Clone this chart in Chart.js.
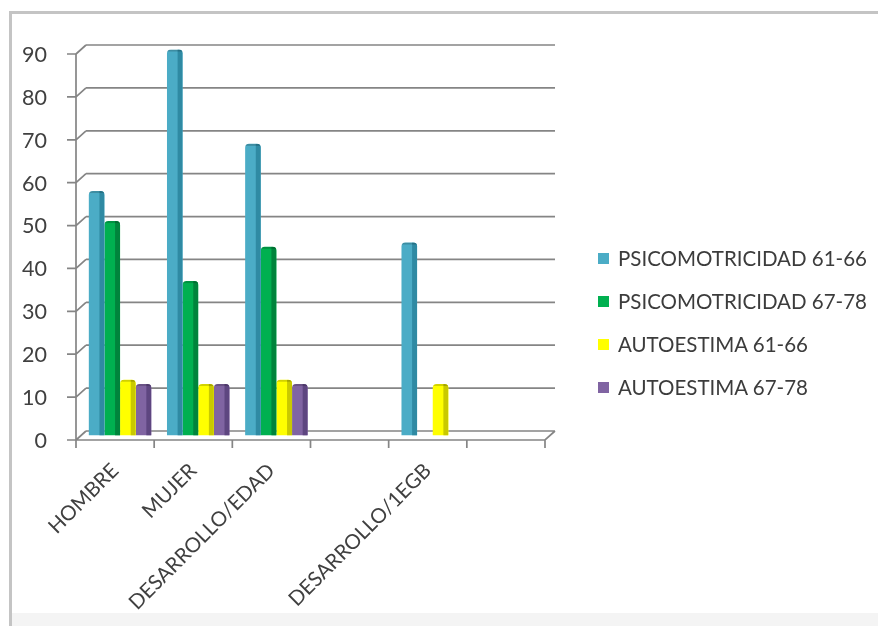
<!DOCTYPE html>
<html>
<head>
<meta charset="utf-8">
<script src="https://cdn.jsdelivr.net/npm/chart.js@4.4.1/dist/chart.umd.min.js"></script>
<style>
  html, body { margin: 0; padding: 0; background: #ffffff; }
  #wrap { position: relative; width: 878px; height: 626px; overflow: hidden; }
  #frame { position: absolute; left: 9px; top: 11px; right: 0; bottom: 0;
           border-left: 3px solid #c4c4c4; border-top: 3px solid #c4c4c4; background: #ffffff; }
  #foot { position: absolute; left: 12px; right: 0; top: 613px; bottom: 0; background: #f4f4f4; }
  #chart { position: absolute; left: 0; top: 0; }
  #legend { position: absolute; left: 598px; top: 0; margin: 0; padding: 0; list-style: none;
            font-family: Lato, "Open Sans", sans-serif; font-size: 20.5px; color: #3c3c3c; }
  #legend li { position: absolute; left: 0; height: 24px; display: flex; align-items: center; white-space: nowrap; }
  #legend .box { display: inline-block; width: 11px; height: 11px; margin-right: 9px; }
</style>
</head>
<body>
<div id="wrap">
  <div id="frame"></div>
  <div id="foot"></div>
  <canvas id="chart" width="878" height="626"></canvas>
  <ul id="legend"></ul>
</div>
<script>
// Categories (two unnamed slots keep the spacing of the original sheet)
const categories = ['HOMBRE', 'MUJER', 'DESARROLLO/EDAD', '', 'DESARROLLO/1EGB', ''];

// Series names and values
const seriesNames = ['PSICOMOTRICIDAD 61-66', 'PSICOMOTRICIDAD 67-78', 'AUTOESTIMA 61-66', 'AUTOESTIMA 67-78'];
const psicomotricidad6166 = [57, 90, 68, null, 45, null];
const psicomotricidad6778 = [50, 36, 44, null, null, null];
const autoestima6166      = [13, 12, 13, null, 12, null];
const autoestima6778      = [12, 12, 12, null, null, null];

// Value axis ticks
const yTicks = [0, 10, 20, 30, 40, 50, 60, 70, 80, 90];

// Face and side colours of each series
const faceColors = ['#4bacc6', '#00b050', '#ffff00', '#8064a2'];
const sideColors = ['#2f8aa3', '#00843c', '#c9c900', '#5e4680'];

// Pseudo-3D depth offset between the middle plane and the front/back planes
const DX = 5, DY = 4.5;

const seriesValues = [psicomotricidad6166, psicomotricidad6778, autoestima6166, autoestima6778];

// Back wall, side wall, floor and the front axes
const wallsPlugin = {
  id: 'walls',
  beforeDatasetsDraw(chart) {
    const { ctx, chartArea: a, scales: { y } } = chart;
    ctx.save();
    ctx.strokeStyle = '#858585';
    ctx.lineWidth = 1.7;
    ctx.beginPath();
    yTicks.forEach(v => {
      const py = y.getPixelForValue(v);
      // back-wall gridline
      ctx.moveTo(a.left + DX, py - DY);
      ctx.lineTo(a.right + DX, py - DY);
      // side-wall diagonal
      ctx.moveTo(a.left - DX, py + DY);
      ctx.lineTo(a.left + DX, py - DY);
      // front tick mark
      ctx.moveTo(a.left - DX - 9, py + DY);
      ctx.lineTo(a.left - DX, py + DY);
    });
    const top = y.getPixelForValue(yTicks[yTicks.length - 1]);
    const base = y.getPixelForValue(0);
    // front value axis
    ctx.moveTo(a.left - DX, top + DY);
    ctx.lineTo(a.left - DX, base + DY);
    // front floor edge and right floor diagonal
    ctx.moveTo(a.left - DX, base + DY);
    ctx.lineTo(a.right - DX, base + DY);
    ctx.lineTo(a.right + DX, base - DY);
    // category separators
    const step = (a.right - a.left) / categories.length;
    for (let i = 0; i <= categories.length; i++) {
      const px = a.left + i * step - DX;
      ctx.moveTo(px, base + DY);
      ctx.lineTo(px, base + DY + 8);
    }
    ctx.stroke();
    ctx.restore();
  }
};

// Darker right-hand side on every column for a rounded, 3D look
const shadePlugin = {
  id: 'shade',
  afterDatasetsDraw(chart) {
    const { ctx } = chart;
    chart.data.datasets.forEach((ds, di) => {
      const meta = chart.getDatasetMeta(di);
      meta.data.forEach((bar, i) => {
        if (ds.data[i] === null) return;
        const { x, y, base, width } = bar.getProps(['x', 'y', 'base', 'width'], true);
        const left = x - width / 2;
        ctx.save();
        ctx.beginPath();
        ctx.roundRect(left, y, width, base - y, [4, 4, 0, 0]);
        ctx.clip();
        ctx.fillStyle = sideColors[di];
        ctx.fillRect(x + width * 0.18, y, width * 0.32, base - y);
        ctx.fillStyle = 'rgba(0,0,0,0.18)';
        ctx.fillRect(left, y, width, 2);
        ctx.restore();
      });
    });
  }
};

const chart = new Chart(document.getElementById('chart'), {
  type: 'bar',
  data: {
    labels: categories,
    datasets: seriesNames.map((name, i) => ({
      label: name,
      data: seriesValues[i],
      backgroundColor: faceColors[i],
      borderWidth: 0,
      borderRadius: { topLeft: 4, topRight: 4, bottomLeft: 0, bottomRight: 0 },
      borderSkipped: 'bottom',
      categoryPercentage: 0.8,
      barPercentage: 1.0
    }))
  },
  options: {
    responsive: false,
    animation: false,
    events: [],
    layout: { padding: { top: 49.5, right: 328, left: 0, bottom: 0 } },
    plugins: { legend: { display: false }, tooltip: { enabled: false } },
    scales: {
      x: {
        grid: { display: false },
        border: { display: false },
        ticks: {
          autoSkip: false,
          minRotation: 45,
          maxRotation: 45,
          padding: 15,
          labelOffset: -5,
          color: '#404040',
          font: { family: 'Lato', size: 20.5 }
        },
        afterFit(scale) { scale.height = 190.5; }
      },
      y: {
        min: 0,
        max: 90,
        grid: { display: false },
        border: { display: false },
        ticks: {
          stepSize: 10,
          padding: 26,
          labelOffset: 5.5,
          color: '#404040',
          font: { family: 'Lato', size: 21.5 }
        },
        afterFit(scale) { scale.width = 81; }
      }
    }
  },
  plugins: [wallsPlugin, shadePlugin]
});

// HTML legend built from the chart's datasets
const legend = document.getElementById('legend');
chart.data.datasets.forEach((ds, i) => {
  const li = document.createElement('li');
  li.style.top = (246 + i * 43) + 'px';
  const box = document.createElement('span');
  box.className = 'box';
  box.style.background = ds.backgroundColor;
  li.appendChild(box);
  li.appendChild(document.createTextNode(ds.label));
  legend.appendChild(li);
});
</script>
</body>
</html>
